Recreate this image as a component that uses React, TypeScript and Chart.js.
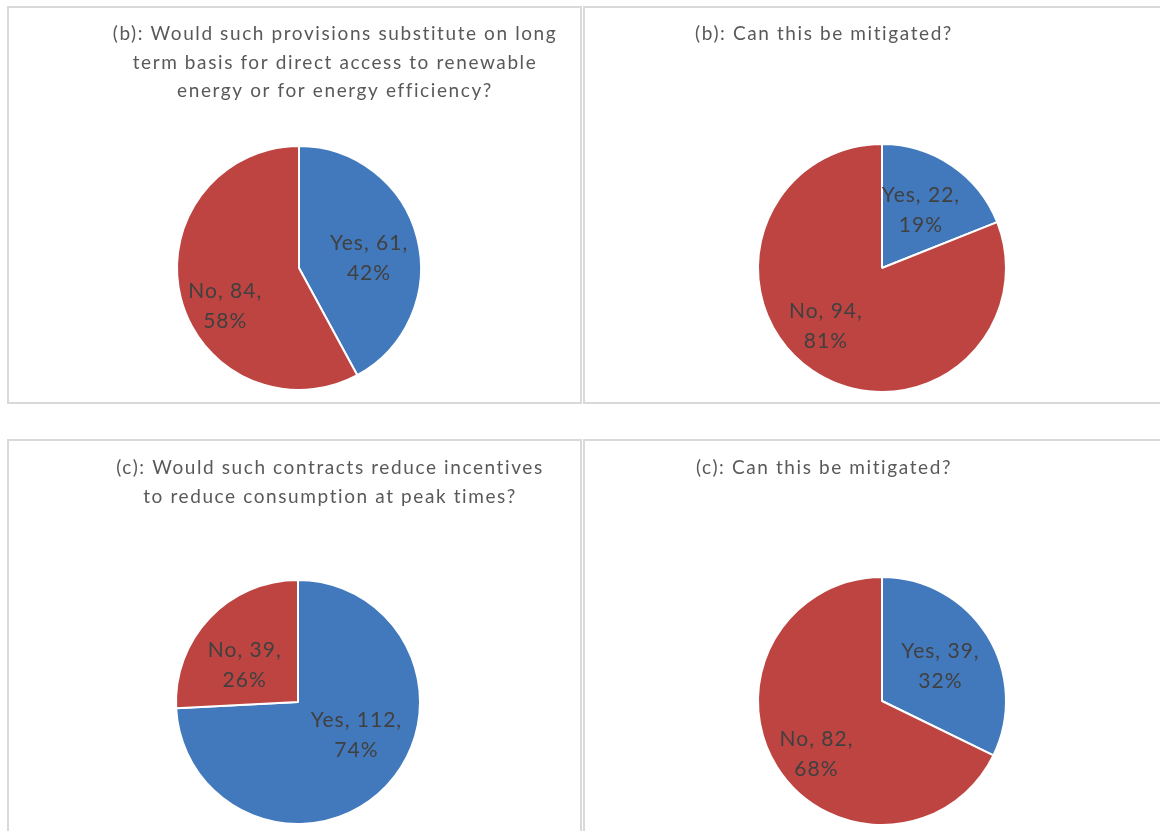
import React, { useEffect, useRef } from "react";
import { Chart, registerables } from "chart.js";

Chart.register(...registerables);

// ---- data ----
const categories = ["Yes", "No"];

const titleB1 = [
  "(b): Would such provisions substitute on long",
  "term basis for direct access to renewable",
  "energy or for energy efficiency?",
];
const titleB2 = ["(b): Can this be mitigated?"];
const titleC1 = [
  "(c): Would such contracts reduce incentives",
  "to reduce consumption at peak times?",
];
const titleC2 = ["(c): Can this be mitigated?"];

const valuesB1 = [61, 84];
const valuesB2 = [22, 94];
const valuesC1 = [112, 39];
const valuesC2 = [39, 82];

// ---- styles ----
const sliceColors = ["#4279BD", "#BE4441"];
const FONT = "Lato, 'Open Sans', 'Liberation Sans', sans-serif";
const TITLE_COLOR = "#595959";
const LABEL_COLOR = "#404040";

type PanelCfg = {
  left: number;
  top: number;
  width: number;
  height: number;
  cx: number;
  cy: number;
  r: number;
  title: string[];
  titleX: number;
  titleY: number;
  values: number[];
  labelFrac: number[];
  labelTurn: number[];
};

const panels: PanelCfg[] = [
  { left: 7, top: 6, width: 575, height: 398, cx: 299, cy: 268, r: 122, title: titleB1, titleX: 335, titleY: 34, values: valuesB1, labelFrac: [0.58, 0.68], labelTurn: [6, -13] },
  { left: 583, top: 6, width: 600, height: 398, cx: 882, cy: 268, r: 124, title: titleB2, titleX: 824, titleY: 34, values: valuesB2, labelFrac: [0.56, 0.65], labelTurn: [0, 10] },
  { left: 7, top: 439, width: 575, height: 420, cx: 298, cy: 702, r: 122, title: titleC1, titleX: 330, titleY: 468, values: valuesC1, labelFrac: [0.55, 0.53], labelTurn: [-14, -9] },
  { left: 583, top: 439, width: 600, height: 420, cx: 882, cy: 701, r: 124, title: titleC2, titleX: 824, titleY: 468, values: valuesC2, labelFrac: [0.55, 0.68], labelTurn: [1, -7] },
];

function makeTitlePlugin(p: PanelCfg) {
  return {
    id: "panelTitle",
    afterDraw(chart: any) {
      const ctx = chart.ctx;
      ctx.save();
      ctx.font = `19px ${FONT}`;
      (ctx as any).letterSpacing = "1.6px";
      ctx.fillStyle = TITLE_COLOR;
      ctx.textAlign = "center";
      ctx.textBaseline = "middle";
      const x = p.titleX - p.left - 2;
      const y0 = p.titleY - p.top - 2;
      p.title.forEach((line, i) => ctx.fillText(line, x, y0 + i * 28.5));
      ctx.restore();
    },
  };
}

function makeLabelPlugin(p: PanelCfg) {
  return {
    id: "sliceLabels",
    afterDatasetsDraw(chart: any) {
      const ctx = chart.ctx;
      const meta = chart.getDatasetMeta(0);
      const data = chart.data.datasets[0].data as number[];
      const total = data.reduce((a, b) => a + b, 0);
      ctx.save();
      ctx.font = `21px ${FONT}`;
      (ctx as any).letterSpacing = "1px";
      ctx.fillStyle = LABEL_COLOR;
      ctx.textAlign = "center";
      ctx.textBaseline = "middle";
      meta.data.forEach((arc: any, i: number) => {
        const { x, y, startAngle, endAngle, outerRadius } = arc.getProps(
          ["x", "y", "startAngle", "endAngle", "outerRadius"],
          true
        );
        const mid = (startAngle + endAngle) / 2 + (p.labelTurn[i] * Math.PI) / 180;
        const d = outerRadius * p.labelFrac[i];
        const lx = x + Math.cos(mid) * d;
        const ly = y + Math.sin(mid) * d;
        const pct = Math.round((data[i] / total) * 100);
        ctx.fillText(`${chart.data.labels[i]}, ${data[i]},`, lx, ly - 15);
        ctx.fillText(`${pct}%`, lx, ly + 15);
      });
      ctx.restore();
    },
  };
}

function PiePanel({ p }: { p: PanelCfg }) {
  const ref = useRef<HTMLCanvasElement>(null);
  useEffect(() => {
    const W = p.width - 4;
    const H = p.height - 4;
    const cx = p.cx - p.left - 2;
    const cy = p.cy - p.top - 2;
    const m = 4;
    const chart = new Chart(ref.current as HTMLCanvasElement, {
      type: "pie",
      data: {
        labels: categories,
        datasets: [
          {
            data: p.values,
            backgroundColor: sliceColors,
            borderColor: "#ffffff",
            borderWidth: 2,
            hoverOffset: 0,
          },
        ],
      },
      options: {
        responsive: false,
        animation: false,
        devicePixelRatio: 1,
        radius: p.r,
        events: [],
        layout: {
          padding: {
            left: cx - p.r - m,
            right: W - cx - p.r - m,
            top: cy - p.r - m,
            bottom: H - cy - p.r - m,
          },
        },
        plugins: {
          legend: { display: false },
          title: { display: false },
          tooltip: { enabled: false },
        },
      } as any,
      plugins: [makeTitlePlugin(p), makeLabelPlugin(p)],
    });
    return () => chart.destroy();
  }, [p]);
  return (
    <div
      style={{
        position: "absolute",
        left: p.left,
        top: p.top,
        width: p.width,
        height: p.height,
        border: "2px solid #d9d9d9",
        boxSizing: "border-box",
        background: "#ffffff",
      }}
    >
      <canvas
        ref={ref}
        width={p.width - 4}
        height={p.height - 4}
        style={{ display: "block", width: p.width - 4, height: p.height - 4 }}
      />
    </div>
  );
}

export default function App() {
  return (
    <div
      style={{
        position: "absolute",
        left: 0,
        top: 0,
        width: 1160,
        height: 831,
        overflow: "hidden",
        background: "#ffffff",
      }}
    >
      {panels.map((p, i) => (
        <PiePanel key={i} p={p} />
      ))}
    </div>
  );
}
